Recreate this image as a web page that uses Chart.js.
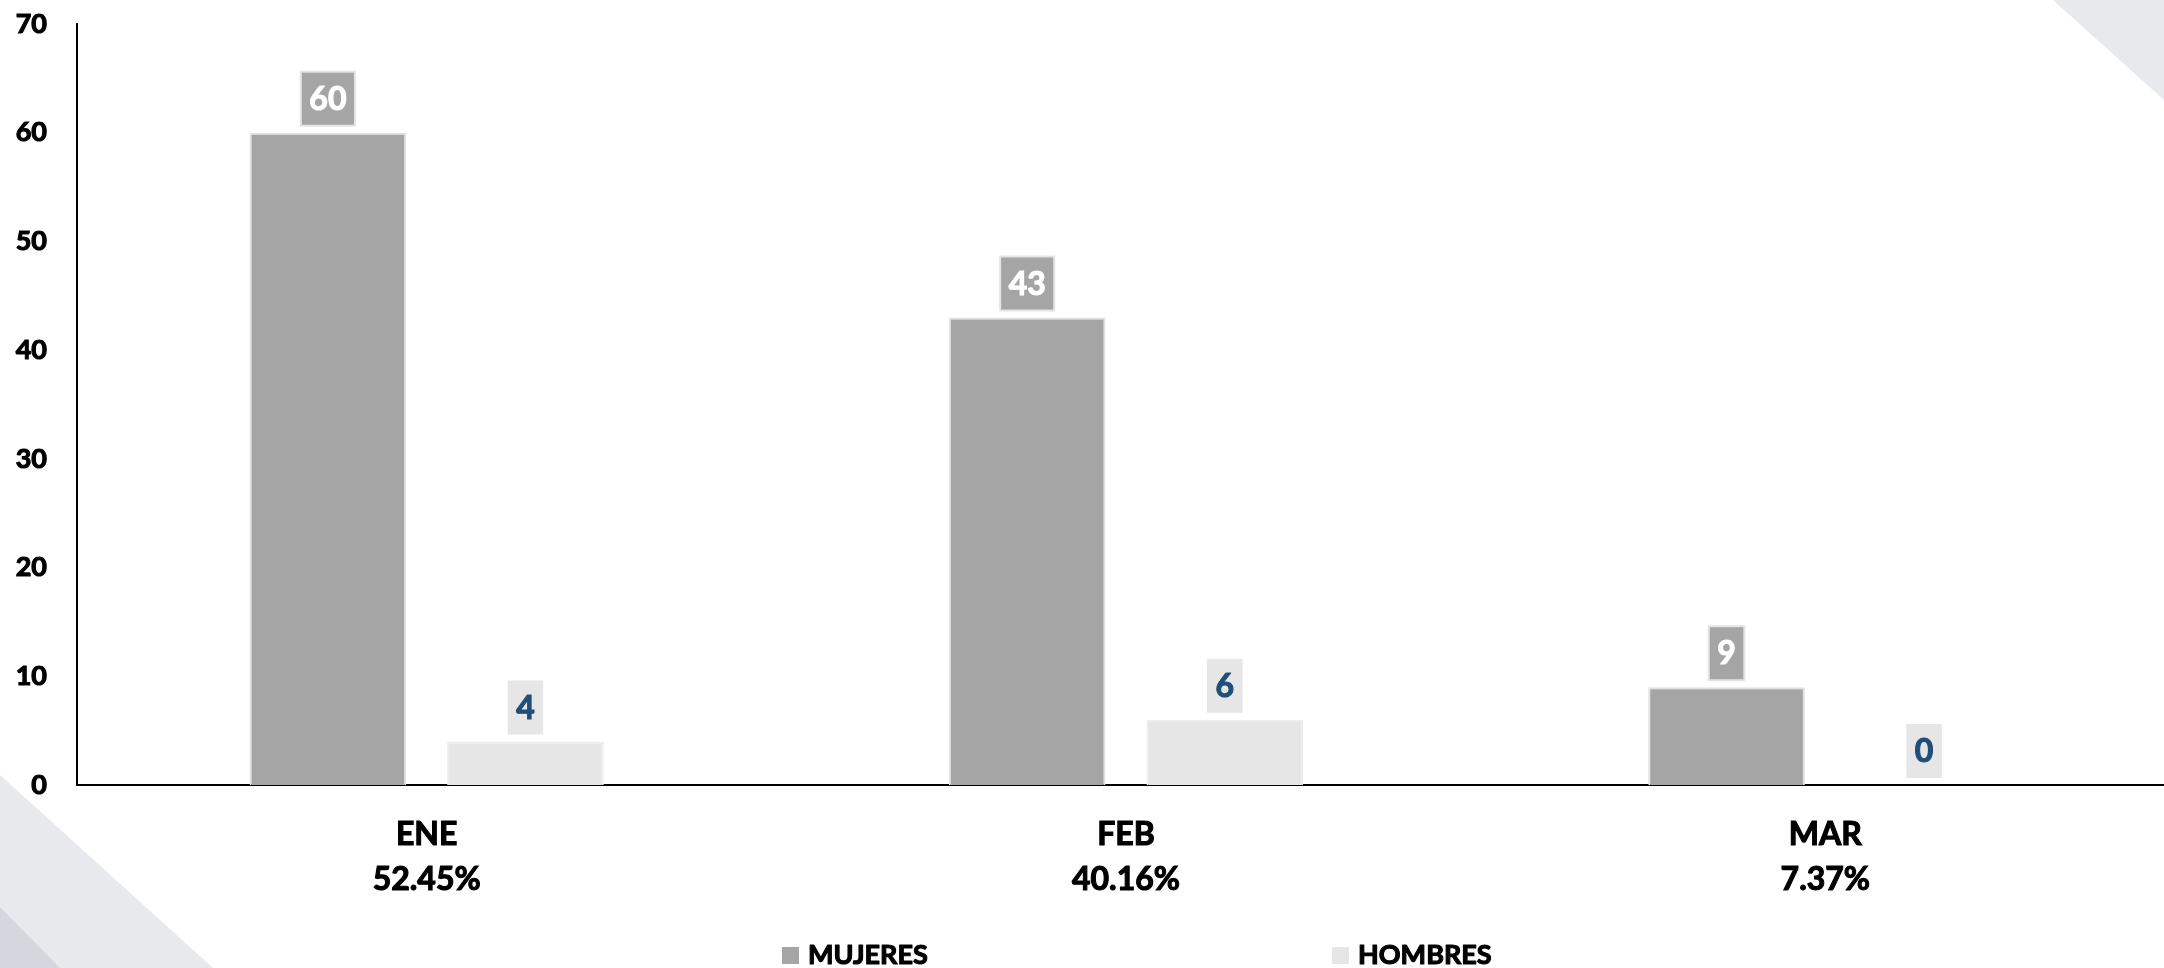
<!DOCTYPE html>
<html>
<head>
<meta charset="utf-8">
<script src="https://cdn.jsdelivr.net/npm/chart.js@4.4.0/dist/chart.umd.min.js"></script>
<style>
    html, body { margin: 0; padding: 0; background: #fff; }
    #wrap { width: 2164px; height: 968px; }
</style>
</head>
<body>
<div id="wrap"><canvas id="chart" width="2164" height="968"></canvas></div>
<script>
// Chart data
const months = ['ENE', 'FEB', 'MAR'];
const shares = ['52.45%', '40.16%', '7.37%'];
const seriesNames = ['MUJERES', 'HOMBRES'];
const mujeres = [60, 43, 9];
const hombres = [4, 6, 0];

const FONT = 'Lato, "Open Sans", sans-serif';
const WEIGHT = 'bold';
const STROKE = 1.1;   // a thin outline makes Lato as heavy as the original bold face
const barColors = ['#a5a5a5', '#e7e6e6'];
const barBorders = ['#e2e2e2', '#ededed'];
const labelColors = ['#ffffff', '#1f4e79'];

// Grey corner shapes behind the chart
const cornerShapes = {
    id: 'cornerShapes',
    beforeDraw(chart) {
        const ctx = chart.ctx;
        const w = chart.width, h = chart.height;
        ctx.save();
        ctx.fillStyle = '#fff';
        ctx.fillRect(0, 0, w, h);
        ctx.fillStyle = '#e8e9ec';
        ctx.beginPath();
        ctx.moveTo(w - 111, 0);
        ctx.lineTo(w, 100);
        ctx.lineTo(w, 0);
        ctx.fill();
        ctx.beginPath();
        ctx.moveTo(0, h - 193);
        ctx.lineTo(213, h);
        ctx.lineTo(0, h);
        ctx.fill();
        ctx.fillStyle = '#d4d8de';
        ctx.beginPath();
        ctx.moveTo(0, h - 61);
        ctx.lineTo(60, h);
        ctx.lineTo(0, h);
        ctx.fill();
        ctx.restore();
    }
};

// The category axis runs a little past the right edge of the picture
const widenX = {
    id: 'widenX',
    afterLayout(chart) {
        const s = chart.scales.x;
        s.right += 11;
        s.width += 11;
        s.configure();
    }
};

function boldText(ctx, txt, x, y, color) {
    ctx.fillStyle = color;
    ctx.strokeStyle = color;
    ctx.lineWidth = STROKE;
    ctx.lineJoin = 'round';
    ctx.strokeText(txt, x, y);
    ctx.fillText(txt, x, y);
}

// Value boxes above each bar
const valueBoxes = {
    id: 'valueBoxes',
    afterDatasetsDraw(chart) {
        const ctx = chart.ctx;
        ctx.save();
        ctx.font = WEIGHT + ' 32px ' + FONT;
        ctx.textAlign = 'center';
        ctx.textBaseline = 'middle';
        chart.data.datasets.forEach((ds, di) => {
            chart.getDatasetMeta(di).data.forEach((bar, i) => {
                const txt = String(ds.data[i]);
                const bw = ctx.measureText(txt).width + 17;
                const bh = 54;
                const x = bar.x - bw / 2;
                const y = bar.y - 7 - bh;
                ctx.fillStyle = barColors[di];
                ctx.fillRect(x, y, bw, bh);
                if (di === 0) {
                    ctx.strokeStyle = '#e4e4e4';
                    ctx.lineWidth = 2;
                    ctx.strokeRect(x, y, bw, bh);
                }
                boldText(ctx, txt, bar.x, y + bh / 2 + 1, labelColors[di]);
            });
        });
        ctx.restore();
    }
};

// Legend at the bottom
const bottomLegend = {
    id: 'bottomLegend',
    afterDraw(chart) {
        const ctx = chart.ctx;
        const startX = [782, 1332];
        const cy = 955;
        ctx.save();
        ctx.font = WEIGHT + ' 27px ' + FONT;
        ctx.textBaseline = 'middle';
        ctx.textAlign = 'left';
        seriesNames.forEach((name, i) => {
            ctx.fillStyle = barColors[i];
            ctx.fillRect(startX[i], cy - 8, 17, 17);
            boldText(ctx, name, startX[i] + 26, cy, '#000');
        });
        ctx.restore();
    }
};

const ctx = document.getElementById('chart').getContext('2d');
new Chart(ctx, {
    type: 'bar',
    data: {
        labels: months.map((m, i) => [m, shares[i]]),
        datasets: [
            {
                label: seriesNames[0],
                data: mujeres,
                backgroundColor: barColors[0],
                borderColor: barBorders[0],
                borderWidth: 2,
                barPercentage: 0.793,
                categoryPercentage: 0.565
            },
            {
                label: seriesNames[1],
                data: hombres,
                backgroundColor: barColors[1],
                borderColor: barBorders[1],
                borderWidth: 2,
                barPercentage: 0.793,
                categoryPercentage: 0.565
            }
        ]
    },
    options: {
        responsive: false,
        animation: false,
        layout: { padding: { top: 24, right: 0, bottom: 0, left: 0 } },
        plugins: {
            legend: { display: false },
            tooltip: { enabled: false }
        },
        scales: {
            x: {
                grid: { display: false, drawTicks: false },
                border: { display: true, color: '#000', width: 2 },
                ticks: {
                    color: '#000',
                    textStrokeColor: '#000',
                    textStrokeWidth: STROKE,
                    font: { family: FONT, size: 32, weight: WEIGHT, lineHeight: 1.406 },
                    padding: 27,
                    maxRotation: 0,
                    autoSkip: false
                },
                afterFit: s => { s.height = 183; }
            },
            y: {
                min: 0,
                max: 70,
                grid: { display: false, drawTicks: false },
                border: { display: true, color: '#000', width: 2 },
                ticks: {
                    stepSize: 10,
                    color: '#000',
                    textStrokeColor: '#000',
                    textStrokeWidth: STROKE,
                    font: { family: FONT, size: 27, weight: WEIGHT },
                    padding: 30
                },
                afterFit: s => {
                    s.width = 77;
                    // tick padding should not push the plot down from the top
                    s.paddingTop = 0;
                    s.paddingBottom = 0;
                }
            }
        }
    },
    plugins: [cornerShapes, widenX, valueBoxes, bottomLegend]
});
</script>
</body>
</html>
